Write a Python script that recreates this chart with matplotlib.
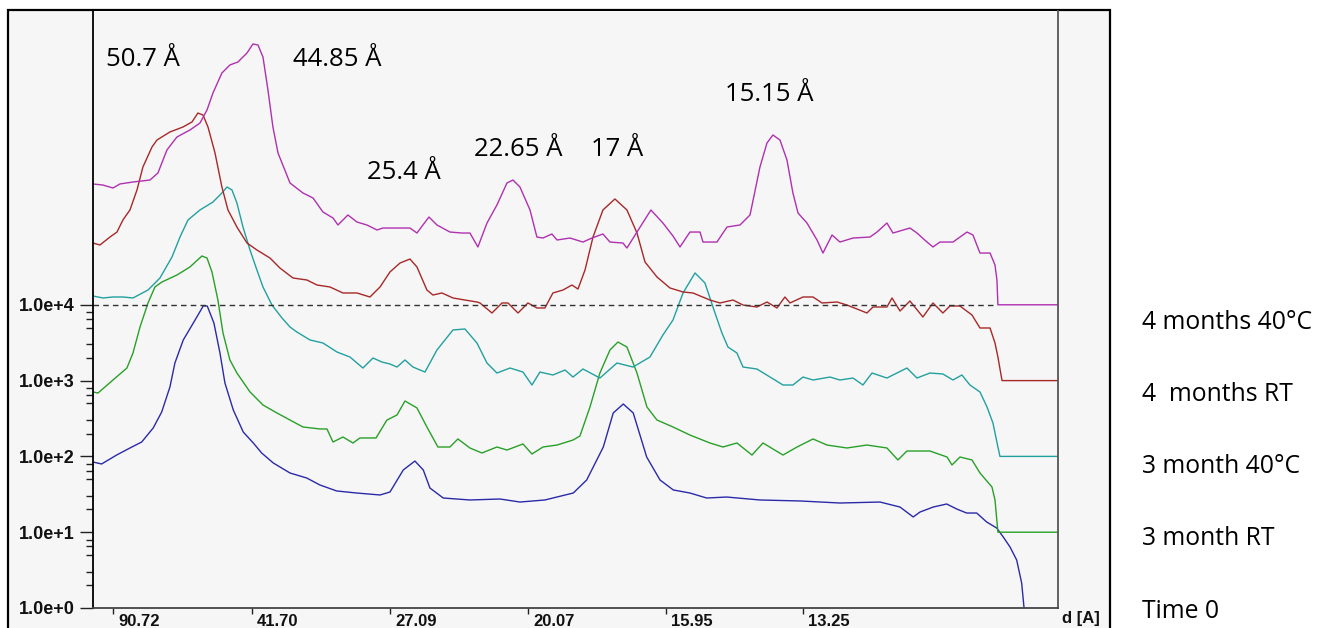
import numpy as np
import matplotlib
matplotlib.use("Agg")
import matplotlib.pyplot as plt
from matplotlib.patches import Rectangle
from matplotlib.transforms import ScaledTranslation
from matplotlib.ticker import FixedLocator, NullFormatter

# ---------------- data ----------------
WAVELENGTH = 1.5406  # Cu K-alpha (Å)

series_names = ["4 months 40°C", "4  months RT", "3 month 40°C", "3 month RT", "Time 0"]
series_colors = ["#b030b0", "#a82828", "#22a0a0", "#28a028", "#2a2aa8"]

tick_d = [90.72, 41.70, 27.09, 20.07, 15.95, 13.25]
tick_labels = ["90.72", "41.70", "27.09", "20.07", "15.95", "13.25"]

ytick_values = [1e0, 1e1, 1e2, 1e3, 1e4]
ytick_labels = ["1.0e+0", "1.0e+1", "1.0e+2", "1.0e+3", "1.0e+4"]
minor_subs = [2, 3, 5, 6.5, 8]

peak_labels = ["50.7 Å", "44.85 Å", "25.4 Å", "22.65 Å", "17 Å", "15.15 Å"]

reference_level = 1e4
reference_end_2theta = 8.25

# 2-theta (deg) and log10(counts) for each pattern
m40_2theta = [0.806, 0.888, 0.971, 1.028, 1.136, 1.276, 1.342, 1.416, 1.499, 1.606,
              1.689, 1.747, 1.796, 1.870, 1.936, 2.002, 2.077, 2.126, 2.168, 2.209,
              2.250, 2.291, 2.333, 2.432, 2.539, 2.622, 2.704, 2.787, 2.828, 2.910,
              2.985, 3.067, 3.150, 3.199, 3.257, 3.340, 3.422, 3.480, 3.529, 3.579,
              3.645, 3.752, 3.851, 3.917, 3.983, 4.058, 4.140, 4.223, 4.272, 4.330,
              4.413, 4.470, 4.520, 4.594, 4.636, 4.743, 4.850, 4.924, 5.015, 5.073,
              5.180, 5.213, 5.296, 5.411, 5.510, 5.593, 5.651, 5.733, 5.816, 5.841,
              5.956, 6.039, 6.146, 6.229, 6.311, 6.369, 6.418, 6.476, 6.534, 6.583,
              6.625, 6.699, 6.782, 6.831, 6.906, 6.971, 7.079, 7.219, 7.277, 7.359,
              7.409, 7.549, 7.607, 7.690, 7.739, 7.797, 7.904, 8.020, 8.069, 8.127,
              8.210, 8.251, 8.267, 8.275, 8.771]
m40_log = [5.594, 5.580, 5.541, 5.594, 5.620, 5.646, 5.739, 6.042, 6.214, 6.306,
           6.398, 6.570, 6.794, 7.058, 7.164, 7.203, 7.322, 7.441, 7.427, 7.269,
           6.834, 6.346, 6.003, 5.607, 5.475, 5.409, 5.224, 5.145, 5.053, 5.185,
           5.092, 5.053, 4.987, 5.013, 5.013, 5.013, 5.013, 4.947, 5.053, 5.158,
           5.053, 4.960, 4.947, 4.947, 4.763, 5.079, 5.317, 5.607, 5.646, 5.554,
           5.251, 4.894, 4.881, 4.934, 4.855, 4.881, 4.828, 4.881, 4.934, 4.828,
           4.815, 4.749, 4.960, 5.251, 5.079, 4.908, 4.763, 4.960, 4.960, 4.828,
           4.828, 5.026, 5.053, 5.185, 5.818, 6.135, 6.240, 6.174, 5.910, 5.475,
           5.211, 5.079, 4.855, 4.683, 4.921, 4.828, 4.881, 4.894, 4.960, 5.079,
           4.947, 5.013, 4.947, 4.828, 4.763, 4.828, 4.828, 4.960, 4.921, 4.683,
           4.683, 4.525, 4.327, 4.0, 4.0]

mrt4_2theta = [0.806, 0.863, 0.946, 1.004, 1.053, 1.111, 1.169, 1.218, 1.293, 1.334,
               1.441, 1.549, 1.623, 1.672, 1.714, 1.755, 1.813, 1.870, 1.920, 1.994,
               2.077, 2.159, 2.267, 2.349, 2.456, 2.572, 2.655, 2.762, 2.869, 2.985,
               3.092, 3.175, 3.257, 3.340, 3.422, 3.480, 3.562, 3.612, 3.686, 3.777,
               3.876, 3.975, 4.000, 4.099, 4.182, 4.231, 4.314, 4.396, 4.470, 4.536,
               4.602, 4.685, 4.759, 4.809, 4.867, 4.933, 5.015, 5.114, 5.213, 5.296,
               5.362, 5.461, 5.568, 5.676, 5.758, 5.898, 5.981, 6.088, 6.171, 6.286,
               6.369, 6.451, 6.517, 6.559, 6.666, 6.749, 6.823, 6.947, 7.029, 7.194,
               7.244, 7.359, 7.401, 7.467, 7.549, 7.656, 7.739, 7.821, 7.879, 7.962,
               8.061, 8.127, 8.210, 8.251, 8.275, 8.309, 8.771]
mrt4_log = [4.815, 4.789, 4.894, 4.960, 5.119, 5.251, 5.515, 5.818, 6.082, 6.174,
            6.280, 6.346, 6.412, 6.530, 6.504, 6.346, 6.003, 5.554, 5.251, 5.026,
            4.815, 4.723, 4.617, 4.485, 4.354, 4.327, 4.261, 4.235, 4.156, 4.156,
            4.103, 4.235, 4.433, 4.551, 4.604, 4.499, 4.195, 4.129, 4.156, 4.090,
            4.063, 4.037, 4.024, 3.892, 4.024, 4.024, 3.892, 4.024, 3.958, 3.958,
            4.156, 4.195, 4.261, 4.208, 4.459, 4.894, 5.251, 5.396, 5.251, 4.947,
            4.565, 4.367, 4.222, 4.169, 4.156, 4.063, 4.024, 4.063, 3.997, 3.971,
            4.037, 3.958, 4.103, 4.024, 4.103, 4.103, 4.024, 4.037, 3.997, 3.892,
            3.971, 3.971, 4.090, 3.918, 4.050, 3.839, 4.024, 3.892, 3.984, 3.984,
            3.865, 3.694, 3.694, 3.496, 3.311, 3.0, 3.0]

m3_40_2theta = [0.806, 0.888, 0.971, 1.053, 1.136, 1.260, 1.359, 1.458, 1.524, 1.590,
                1.689, 1.796, 1.870, 1.912, 1.953, 1.994, 2.044, 2.102, 2.159, 2.209,
                2.283, 2.366, 2.432, 2.489, 2.597, 2.704, 2.820, 2.927, 3.034, 3.117,
                3.191, 3.257, 3.315, 3.381, 3.447, 3.546, 3.645, 3.777, 3.876, 3.975,
                4.058, 4.140, 4.248, 4.355, 4.429, 4.495, 4.602, 4.702, 4.768, 4.850,
                4.990, 5.131, 5.263, 5.403, 5.510, 5.593, 5.676, 5.775, 5.857, 5.923,
                5.997, 6.047, 6.121, 6.171, 6.286, 6.394, 6.501, 6.583, 6.666, 6.749,
                6.889, 6.971, 7.079, 7.161, 7.236, 7.359, 7.524, 7.607, 7.714, 7.821,
                7.904, 7.978, 8.044, 8.127, 8.185, 8.234, 8.275, 8.292, 8.771]
m3_40_log = [4.116, 4.090, 4.103, 4.103, 4.090, 4.195, 4.354, 4.631, 4.894, 5.119,
             5.251, 5.356, 5.475, 5.554, 5.515, 5.343, 5.026, 4.723, 4.459, 4.235,
             3.997, 3.826, 3.707, 3.641, 3.536, 3.496, 3.377, 3.311, 3.166, 3.298,
             3.245, 3.219, 3.179, 3.272, 3.179, 3.113, 3.404, 3.668, 3.681, 3.496,
             3.232, 3.100, 3.166, 3.113, 2.942, 3.113, 3.074, 3.140, 3.047, 3.153,
             3.034, 3.232, 3.179, 3.311, 3.602, 3.799, 4.156, 4.420, 4.288, 3.971,
             3.628, 3.443, 3.364, 3.179, 3.153, 3.047, 2.942, 2.942, 3.047, 3.008,
             3.047, 3.008, 3.034, 2.942, 3.100, 3.034, 3.166, 3.034, 3.100, 3.087,
             3.008, 3.074, 2.942, 2.850, 2.652, 2.441, 2.124, 2.0, 2.0]

m3_rt_2theta = [0.806, 0.847, 0.971, 1.086, 1.136, 1.194, 1.260, 1.317, 1.375, 1.499,
                1.606, 1.705, 1.747, 1.788, 1.837, 1.879, 1.936, 1.994, 2.102, 2.209,
                2.324, 2.432, 2.539, 2.679, 2.737, 2.787, 2.869, 2.952, 3.009, 3.142,
                3.232, 3.315, 3.381, 3.480, 3.562, 3.653, 3.752, 3.818, 3.917, 4.016,
                4.140, 4.223, 4.355, 4.429, 4.520, 4.636, 4.768, 4.825, 4.908, 4.990,
                5.073, 5.139, 5.213, 5.296, 5.378, 5.461, 5.593, 5.733, 5.898, 6.006,
                6.121, 6.245, 6.336, 6.501, 6.617, 6.749, 6.864, 7.029, 7.194, 7.359,
                7.450, 7.524, 7.714, 7.855, 7.896, 7.962, 8.061, 8.127, 8.226, 8.251,
                8.275, 8.771]
m3_rt_log = [2.850, 2.836, 3.008, 3.166, 3.364, 3.707, 4.024, 4.235, 4.301, 4.393,
             4.499, 4.644, 4.617, 4.433, 4.063, 3.628, 3.272, 3.100, 2.850, 2.678,
             2.573, 2.480, 2.388, 2.362, 2.362, 2.190, 2.256, 2.177, 2.243, 2.243,
             2.480, 2.546, 2.731, 2.639, 2.388, 2.124, 2.124, 2.230, 2.111, 2.045,
             2.124, 2.084, 2.164, 2.032, 2.124, 2.150, 2.216, 2.269, 2.652, 3.100,
             3.404, 3.509, 3.443, 3.100, 2.652, 2.480, 2.388, 2.282, 2.177, 2.124,
             2.177, 2.018, 2.177, 2.018, 2.124, 2.230, 2.150, 2.111, 2.150, 2.111,
             1.953, 2.071, 2.071, 1.992, 1.887, 1.992, 1.953, 1.781, 1.596, 1.425,
             1.0, 1.0]

t0_2theta = [0.806, 0.877, 1.001, 1.111, 1.208, 1.303, 1.373, 1.441, 1.482, 1.551,
             1.634, 1.716, 1.749, 1.804, 1.854, 1.895, 1.964, 2.046, 2.129, 2.198,
             2.294, 2.432, 2.570, 2.679, 2.817, 2.982, 3.175, 3.257, 3.367, 3.463,
             3.532, 3.587, 3.697, 3.917, 4.165, 4.330, 4.536, 4.770, 4.881, 5.018,
             5.100, 5.183, 5.265, 5.376, 5.486, 5.596, 5.733, 5.871, 6.036, 6.311,
             6.641, 6.971, 7.302, 7.467, 7.576, 7.632, 7.741, 7.852, 7.935, 8.017,
             8.100, 8.182, 8.265, 8.319, 8.375, 8.430, 8.471, 8.490, 8.515]
t0_log = [1.926, 1.900, 2.018, 2.111, 2.190, 2.375, 2.586, 2.916, 3.232, 3.536,
          3.760, 3.984, 3.984, 3.760, 3.364, 2.968, 2.612, 2.322, 2.177, 2.045,
          1.913, 1.781, 1.715, 1.623, 1.544, 1.517, 1.491, 1.530, 1.821, 1.939,
          1.821, 1.583, 1.451, 1.425, 1.438, 1.398, 1.425, 1.517, 1.689, 2.124,
          2.573, 2.691, 2.573, 1.992, 1.689, 1.557, 1.517, 1.451, 1.464, 1.425,
          1.412, 1.385, 1.398, 1.332, 1.201, 1.266, 1.332, 1.372, 1.306, 1.253,
          1.253, 1.135, 1.055, 0.937, 0.805, 0.633, 0.330, 0.013, -0.42]

series_x = [m40_2theta, mrt4_2theta, m3_40_2theta, m3_rt_2theta, t0_2theta]
series_log = [m40_log, mrt4_log, m3_40_log, m3_rt_log, t0_log]

# ---------------- figure ----------------
W, H = 1320, 628
BG = "#f6f6f6"
fig = plt.figure(figsize=(W / 100, H / 100), dpi=100)
fig.patch.set_facecolor("white")

frame = Rectangle((8 / W, -0.05), 1102 / W, 1.05 - 10 / H, transform=fig.transFigure,
                  facecolor=BG, edgecolor="black", linewidth=1.6, zorder=-5)
fig.add_artist(frame)

ax = fig.add_axes([93 / W, 1 - 608 / H, 965 / W, 597 / H])
ax.set_facecolor(BG)

for xs, ls, col in zip(series_x[::-1], series_log[::-1], series_colors[::-1]):
    n = min(len(xs), len(ls))
    ax.plot(np.array(xs[:n]), 10.0 ** np.array(ls[:n]), color=col, lw=1.0,
            solid_joinstyle="round")

ax.plot([m40_2theta[0], reference_end_2theta], [reference_level, reference_level],
        color="#333333", lw=1.0, ls=(0, (4, 3)))

ax.set_yscale("log")
ax.set_xlim(0.806, 8.771)
ax.set_ylim(1.0, 10 ** 7.876)

# y ticks
ax.yaxis.set_major_locator(FixedLocator(ytick_values))
ax.set_yticklabels(ytick_labels)
minor_pos = [s * 10.0 ** e for e in range(0, 4) for s in minor_subs]
ax.yaxis.set_minor_locator(FixedLocator(minor_pos))
ax.yaxis.set_minor_formatter(NullFormatter())
ax.tick_params(axis="y", which="major", length=9.5, width=1.0, pad=4, color="#222222")
ax.tick_params(axis="y", which="minor", length=5, width=1.0, color="#222222")

# x ticks: d-spacings placed at their Bragg 2-theta
tick_2theta = [2 * np.degrees(np.arcsin(WAVELENGTH / (2 * d))) for d in tick_d]
ax.set_xticks(tick_2theta)
ax.set_xticklabels(tick_labels)
ax.xaxis.set_minor_locator(FixedLocator([]))
ax.tick_params(axis="x", which="major", length=4, width=1.0, pad=0.3, color="#222222")
shift = ScaledTranslation(5 / 100, 0, fig.dpi_scale_trans)
for lbl in ax.get_xticklabels():
    lbl.set_horizontalalignment("left")
    lbl.set_transform(lbl.get_transform() + shift)
    lbl.set_fontsize(12)

for lbl in ax.get_yticklabels():
    lbl.set_fontsize(13)

for lbl in ax.get_xticklabels() + ax.get_yticklabels():
    lbl.set_fontfamily("Liberation Sans")
    lbl.set_fontweight("bold")
    lbl.set_color("#111111")

# spines
ax.spines["top"].set_visible(False)
ax.spines["left"].set_color("black")
ax.spines["left"].set_linewidth(1.3)
ax.spines["bottom"].set_color("#444444")
ax.spines["bottom"].set_linewidth(1.3)
ax.spines["right"].set_color("#555555")
ax.spines["right"].set_linewidth(1.3)

# peak annotations (axes fraction)
peak_pos = [(0.0135, 0.908), (0.2073, 0.908), (0.284, 0.7186),
            (0.3948, 0.757), (0.516, 0.757), (0.655, 0.849)]
for txt, (px, py) in zip(peak_labels, peak_pos):
    ax.text(px, py, txt, transform=ax.transAxes, fontsize=18.5,
            family=["Open Sans", "DejaVu Sans"], va="baseline", ha="left", color="black")

# axis unit label
fig.text(1062 / W, 1 - 623 / H, "d [A]", fontsize=12, fontweight="bold",
         family="Liberation Sans", va="baseline", ha="left", color="#111111")

# series names on the right
name_baselines = [329, 401, 473, 545, 618]
for name, yb in zip(series_names, name_baselines):
    fig.text(1142 / W, 1 - yb / H, name, fontsize=17.8,
             family=["Open Sans", "DejaVu Sans"], va="baseline", ha="left", color="black")

fig.savefig("out.png", dpi=100, facecolor="white")
